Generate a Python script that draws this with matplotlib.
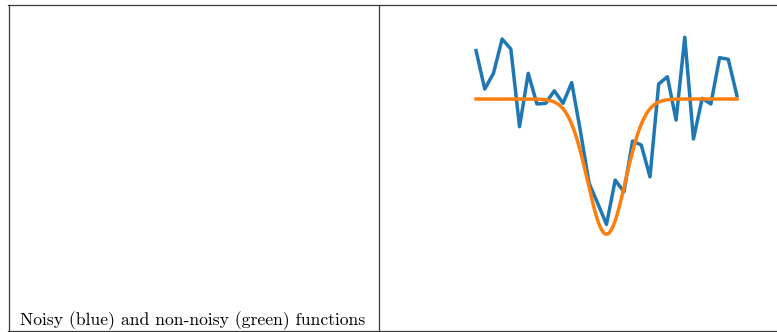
import numpy as np
import matplotlib.pyplot as plt
from matplotlib.lines import Line2D

# sample index of the noisy curve
x_noisy = list(range(31))
# noisy (blue) values
y_noisy = [0.358, 0.074, 0.190, 0.444, 0.370, -0.205, 0.190, -0.037, -0.032, 0.061,
           -0.032, 0.121, -0.237, -0.624, -0.773, -0.928, -0.600, -0.687, -0.311, -0.341,
           -0.576, 0.111, 0.165, -0.156, 0.457, -0.296, 0.005, -0.037, 0.306, 0.294, 0.024]

# non-noisy (orange) dip: baseline, depth, centre and width
base = 0.0
depth = 1.0
centre = 15.0
width = 2.18

caption = "Noisy (blue) and non-noisy (green) functions"

W, H = 777, 332
fig = plt.figure(figsize=(W / 100, H / 100), dpi=100)

# table borders (pixel coordinates -> figure fraction)
def fx(px):
    return px / W

def fy(py):
    return 1 - py / H

border = dict(color='#3a3a3a', lw=0.9, transform=fig.transFigure)
fig.add_artist(Line2D([fx(8), fx(777)], [fy(4.5), fy(4.5)], **border))
fig.add_artist(Line2D([fx(8), fx(777)], [fy(331), fy(331)], **border))
fig.add_artist(Line2D([fx(8.5), fx(8.5)], [fy(4.5), fy(331)], **border))
fig.add_artist(Line2D([fx(378.5), fx(378.5)], [fy(4.5), fy(331)], **border))

fig.text(fx(20), fy(325), caption, fontfamily='cmr10', fontsize=12.7,
         va='baseline', ha='left')

# plot in the right cell
ax = fig.add_axes([fx(463), fy(244), fx(750) - fx(463), fy(27.4) - fy(244)])
xs = np.linspace(x_noisy[0], x_noisy[-1], 400)
ys = base - depth * np.exp(-(xs - centre) ** 2 / (2 * width ** 2))
ax.plot(x_noisy, y_noisy, color='#1f77b4', lw=2.5)
ax.plot(xs, ys, color='#ff7f0e', lw=2.5)
ax.axis('off')

fig.savefig('out.png', dpi=100)
